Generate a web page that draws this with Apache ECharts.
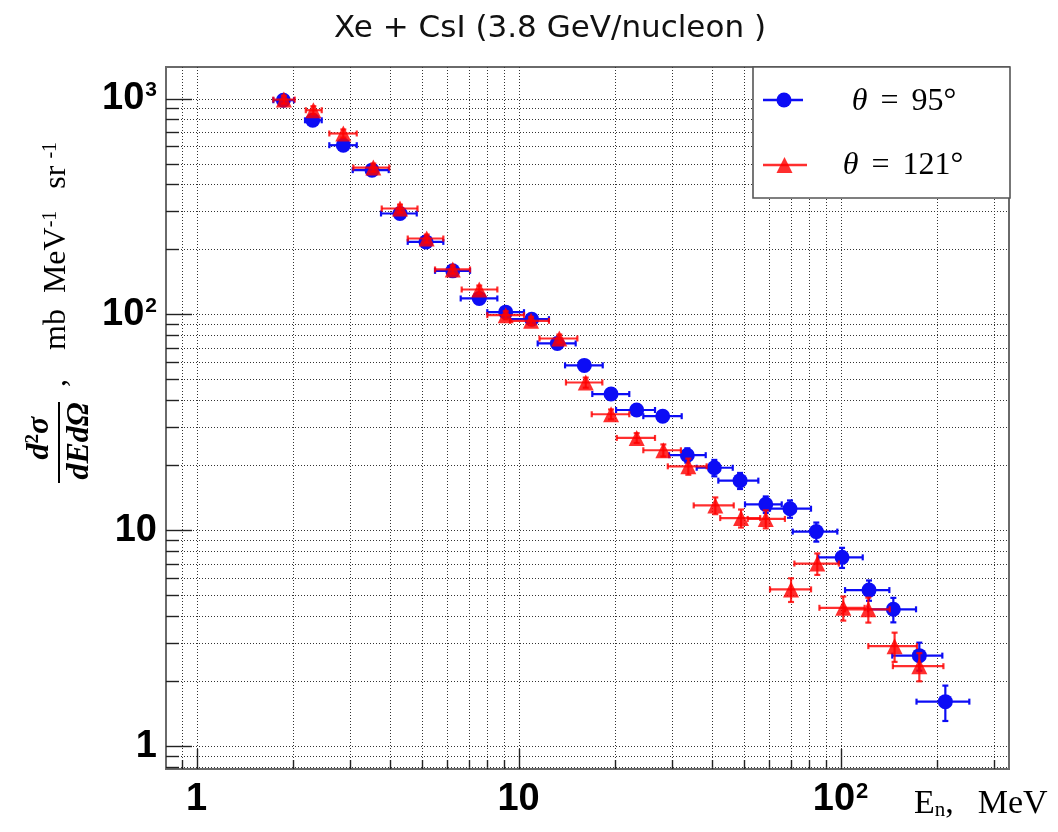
<!DOCTYPE html>
<html><head><meta charset="utf-8">
<script src="https://cdn.jsdelivr.net/npm/echarts@6/dist/echarts.min.js"></script>
<style>html,body{margin:0;padding:0;background:#fff}#c{width:1058px;height:832px}</style>
</head><body><div id="c"></div><script>
// ---- data ----
const titleText = 'Xe + CsI (3.8 GeV/nucleon )';
const xGridValues = [0.9,1,2,3,4,5,6,7,8,9,10,20,30,40,50,60,70,80,90,100,200,300];
const yGridValues = [0.8,0.9,1,2,3,4,5,6,7,8,9,10,20,30,40,50,60,70,80,90,100,200,300,400,500,600,700,800,900,1000];
const xRange = [0.804, 333.6];
const yRange = [0.785, 1400];

const blueE     = [1.861,2.296,2.857,3.508,4.285,5.161,6.248,7.553,9.124,10.99,13.20,16.01,19.38,23.28,28.04,33.44,40.56,48.75,58.60,69.69,84.10,101.1,122.6,145.9,175.7,211.6];
const blueELow  = [1.732,2.173,2.585,3.056,3.741,4.529,5.505,6.614,8.000,9.410,11.47,13.95,16.95,20.09,24.41,29.34,35.76,41.74,50.51,60.41,71.05,85.31,103.3,121.7,144.8,172.2];
const blueEHigh = [2.008,2.448,3.145,3.953,4.830,5.841,7.070,8.595,10.40,12.43,15.05,18.26,22.08,26.54,32.12,38.14,46.27,55.56,65.68,80.97,97.73,117.2,141.8,171.6,207.1,251.2];
const blueY     = [982,793,608,466,293.5,216.8,159.2,118.6,102.5,95.1,73.4,58.1,42.8,36.1,33.8,22.3,19.5,17.0,13.2,12.6,9.87,7.50,5.29,4.31,2.63,1.61];
const blueYErr  = [42,32,24,19,12,9,6.4,4.7,4.1,3.8,3.3,2.9,2.1,1.8,1.9,1.7,1.7,1.45,1.16,1.16,1.0,0.80,0.57,0.56,0.39,0.30];

const redE      = [1.868,2.306,2.857,3.540,4.285,5.187,6.248,7.553,9.124,10.94,13.39,16.17,19.38,23.28,28.17,33.68,40.85,49.1,58.6,70.2,84.7,102.0,122.0,147.2,175.7];
const redELow   = [1.732,2.185,2.585,3.069,3.760,4.529,5.505,6.661,8.0,9.41,11.62,14.04,16.88,20.19,24.41,29.08,35.0,42.3,51.5,60.4,71.9,86.0,103.3,122.0,145.4];
const redEHigh  = [2.018,2.448,3.145,3.970,4.856,5.841,7.070,8.595,10.40,12.43,15.23,18.21,22.08,26.54,31.94,38.39,46.6,56.3,67.2,81.0,98.8,118.8,142.2,172.7,208.7];
const redY      = [989,883,689,479,309.6,224.8,161.6,130.5,99.3,93.4,77.4,48.4,34.5,26.8,23.5,19.8,13.05,11.4,11.3,5.33,7.02,4.38,4.31,2.91,2.35];
const redYErr   = [42,38,30,21,13,9.7,7,5.6,4.3,4.0,3.3,2.6,1.8,1.4,1.5,1.7,1.16,1.09,1.08,0.67,0.80,0.56,0.57,0.45,0.35];

const seriesNames = ['θ = 95°', 'θ = 121°'];
// ---- style ----
const BLUE = 'rgb(12,12,245)';
const RED = 'rgba(255,0,0,0.82)';

function isMajor(v){ const l = Math.log10(v); return Math.abs(l - Math.round(l)) < 1e-6; }
function supLabel(v){
  const p = Math.round(Math.log10(v));
  if (!isMajor(v)) return '';
  if (p === 0) return '{b|1}';
  if (p === 1) return '{b|10}';
  return '{b|10}{s|' + p + '}';
}

function renderXGrid(params, api){
  const cs = params.coordSys;
  const v = api.value(0);
  const px = Math.round(api.coord([v, 1])[0]) + 0.5;
  const bottom = cs.y + cs.height;
  return {type:'group', children:[
    {type:'line', shape:{x1:px,y1:cs.y,x2:px,y2:bottom}, style:{stroke:'#333', lineWidth:1, lineDash:[1,2]}},
    {type:'line', shape:{x1:px,y1:bottom,x2:px,y2:bottom-(isMajor(v)?20:9)}, style:{stroke:'#222', lineWidth:1.4}}
  ]};
}
function renderYGrid(params, api){
  const cs = params.coordSys;
  const v = api.value(1);
  const py = Math.round(api.coord([1, v])[1]) + 0.5;
  return {type:'group', children:[
    {type:'line', shape:{x1:cs.x,y1:py,x2:cs.x+cs.width,y2:py}, style:{stroke:'#333', lineWidth:1, lineDash:[1,2]}},
    {type:'line', shape:{x1:cs.x,y1:py,x2:cs.x+(isMajor(v)?26:13),y2:py}, style:{stroke:'#222', lineWidth:1.4}}
  ]};
}
function makeErr(color){
  return function(params, api){
    const x=api.value(0), y=api.value(1), xl=api.value(2), xh=api.value(3), e=api.value(4);
    const c = api.coord([x,y]);
    const l = api.coord([xl,y])[0], h = api.coord([xh,y])[0];
    const t = api.coord([x,y+e])[1], b = api.coord([x,y-e])[1];
    const cap = 3, st = {stroke:color, lineWidth:2.2};
    const L = (a,b2,c2,d)=>({type:'line', shape:{x1:a,y1:b2,x2:c2,y2:d}, style:st});
    return {type:'group', children:[
      L(l,c[1],h,c[1]), L(l,c[1]-cap,l,c[1]+cap), L(h,c[1]-cap,h,c[1]+cap),
      L(c[0],t,c[0],b), L(c[0]-cap,t,c[0]+cap,t), L(c[0]-cap,b,c[0]+cap,b)
    ]};
  };
}

const blueErrData = blueE.map((x,i)=>[x, blueY[i], blueELow[i], blueEHigh[i], blueYErr[i]]);
const redErrData  = redE.map((x,i)=>[x, redY[i], redELow[i], redEHigh[i], redYErr[i]]);

const chart = echarts.init(document.getElementById('c'), null, {renderer:'canvas'});
const serif = "'Liberation Serif','Times New Roman',serif";
chart.setOption({
  animation:false,
  backgroundColor:'#fff',
  grid:{left:166, top:67, right:49, bottom:63, show:true, borderColor:'#6a6a6a', borderWidth:2, backgroundColor:'#fff'},
  xAxis:{type:'log', logBase:10, min:xRange[0], max:xRange[1],
    axisLine:{show:false}, axisTick:{show:false}, splitLine:{show:false},
    axisLabel:{showMinLabel:false, showMaxLabel:false, margin:12, formatter:supLabel,
      rich:{b:{fontSize:38, fontWeight:'bold', fontFamily:"'Liberation Sans Narrow','Liberation Sans',Arial", color:'#000'},
            s:{fontSize:22, fontWeight:'bold', fontFamily:"'Liberation Sans Narrow','Liberation Sans',Arial", color:'#000', verticalAlign:'top', padding:[0,0,0,1]}}}},
  yAxis:{type:'log', logBase:10, min:yRange[0], max:yRange[1],
    axisLine:{show:false}, axisTick:{show:false}, splitLine:{show:false},
    axisLabel:{showMinLabel:false, showMaxLabel:false, margin:9, formatter:supLabel,
      rich:{b:{fontSize:38, fontWeight:'bold', fontFamily:"'Liberation Sans',Arial", color:'#000'},
            s:{fontSize:21, fontWeight:'bold', fontFamily:"'Liberation Sans',Arial", color:'#000', verticalAlign:'top', padding:[0,0,0,1]}}}},
  series:[
    {type:'custom', name:'xgrid', silent:true, z:1, clip:false, renderItem:renderXGrid, data:xGridValues.map(v=>[v,1])},
    {type:'custom', name:'ygrid', silent:true, z:1, clip:false, renderItem:renderYGrid, data:yGridValues.map(v=>[1,v])},
    {type:'custom', name:seriesNames[0]+' err', z:3, silent:true, renderItem:makeErr(BLUE), dimensions:['x','y','xl','xh','e'], encode:{x:0,y:1}, data:blueErrData},
    {type:'scatter', name:seriesNames[0], z:4, symbol:'circle', symbolSize:15, itemStyle:{color:BLUE, opacity:1}, data:blueE.map((x,i)=>[x, blueY[i]])},
    {type:'custom', name:seriesNames[1]+' err', z:5, silent:true, renderItem:makeErr(RED), dimensions:['x','y','xl','xh','e'], encode:{x:0,y:1}, data:redErrData},
    {type:'scatter', name:seriesNames[1], z:6, symbol:'triangle', symbolSize:16, itemStyle:{color:RED, opacity:1}, data:redE.map((x,i)=>[x, redY[i]])}
  ],
  graphic:[
    {type:'text', x:550, y:29, style:{text:titleText, fontSize:31, fontFamily:"'DejaVu Sans','Noto Sans',sans-serif", fill:'#111', align:'center', verticalAlign:'middle'}},
    // legend box
    {type:'rect', z:20, shape:{x:753, y:67, width:257, height:131}, style:{fill:'#fff', stroke:'#555', lineWidth:1.6}},
    {type:'line', z:21, shape:{x1:763,y1:100,x2:803,y2:100}, style:{stroke:BLUE, lineWidth:2.5}},
    {type:'circle', z:21, shape:{cx:784, cy:100, r:7.5}, style:{fill:BLUE}},
    {type:'line', z:21, shape:{x1:763,y1:165,x2:807,y2:165}, style:{stroke:RED, lineWidth:2.5}},
    {type:'polygon', z:21, shape:{points:[[784.5,157],[776.5,173],[792.5,173]]}, style:{fill:RED}},
    {type:'text', z:21, x:904, y:102, style:{text:'{i|θ}{g| }={g| }95°', fontSize:32, fontFamily:serif, fill:'#000', align:'center', verticalAlign:'middle',
      rich:{i:{fontStyle:'italic', fontSize:32, fontFamily:serif}, g:{width:13, fontSize:32}}}},
    {type:'text', z:21, x:903, y:166, style:{text:'{i|θ}{g| }={g| }121°', fontSize:32, fontFamily:serif, fill:'#000', align:'center', verticalAlign:'middle',
      rich:{i:{fontStyle:'italic', fontSize:32, fontFamily:serif}, g:{width:13, fontSize:32}}}},
    // x axis name
    {type:'text', x:914, y:804, style:{text:'E{n|n},{g| }MeV', fontSize:34, fontFamily:serif, fill:'#000', align:'left', verticalAlign:'middle',
      rich:{n:{fontSize:21, fontFamily:serif, verticalAlign:'bottom'}, g:{width:24, fontSize:34}}}},
    // y axis title (rotated)
    {type:'group', x:60, y:483, rotation:Math.PI/2, children:[
      {type:'line', shape:{x1:0,y1:-1,x2:81,y2:-1}, style:{stroke:'#000', lineWidth:2}},
      {type:'text', x:45, y:-20, style:{text:'d{s|2}σ', fontSize:32, fontWeight:'bold', fontStyle:'italic', fontFamily:serif, fill:'#000', align:'center', verticalAlign:'middle',
        rich:{s:{fontSize:19, fontWeight:'bold', fontFamily:serif, verticalAlign:'top'}}}},
      {type:'text', x:42, y:20, style:{text:'dEdΩ', fontSize:32, fontWeight:'bold', fontStyle:'italic', fontFamily:serif, fill:'#000', align:'center', verticalAlign:'middle'}},
      {type:'text', x:96, y:-3, style:{text:',{g1| }mb{g2| }MeV{s|-1}{g3| }sr{g4| }{s|-1}', fontSize:32, fontFamily:serif, fill:'#000', align:'left', verticalAlign:'middle',
        rich:{s:{fontSize:20, fontFamily:serif, verticalAlign:'top'}, g1:{width:29, fontSize:32}, g2:{width:16, fontSize:32}, g3:{width:22, fontSize:32}, g4:{width:7, fontSize:32}}}}
    ]}
  ]
});
</script></body></html>
